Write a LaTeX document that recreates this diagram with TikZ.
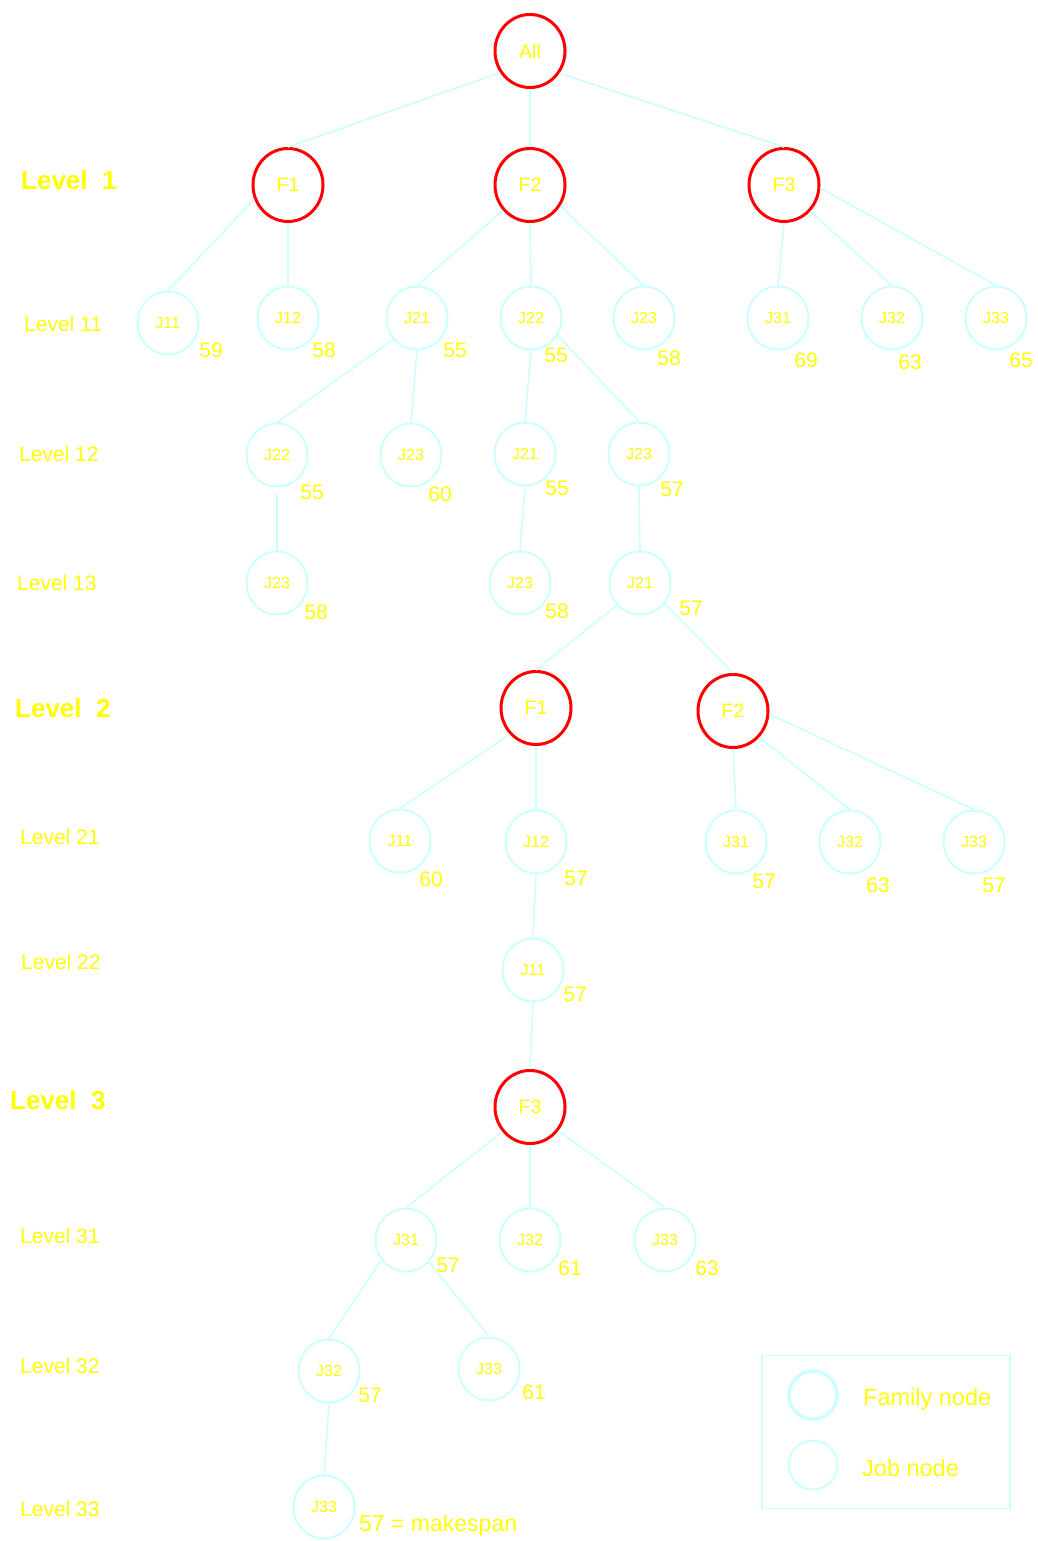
\documentclass[tikz,border=0pt]{standalone}
\usepackage{fontspec}
\setmainfont{Liberation Sans}
\usetikzlibrary{shapes.geometric}
\definecolor{famred}{HTML}{FF0000}
\definecolor{jobcyan}{HTML}{CCFFFF}
\definecolor{txtyellow}{HTML}{FFFF00}
\tikzset{
  famnode/.style={ellipse, draw=famred, line width=3pt, minimum width=70pt, minimum height=73pt, inner sep=0pt, text=txtyellow, font=\fontsize{19.5}{22}\selectfont},
  jobnode/.style={ellipse, draw=jobcyan, line width=2pt, minimum width=61pt, minimum height=63pt, inner sep=0pt, text=txtyellow, font=\fontsize{16}{18}\selectfont},
  edge/.style={draw=jobcyan, line width=1.6pt},
  val/.style={text=txtyellow, inner sep=0pt, font=\fontsize{21}{24}\selectfont},
  lvl/.style={text=txtyellow, inner sep=0pt, anchor=west, font=\fontsize{21}{24}\selectfont},
  biglvl/.style={text=txtyellow, inner sep=0pt, anchor=west, font=\bfseries\fontsize{26}{30}\selectfont},
  legtext/.style={text=txtyellow, inner sep=0pt, anchor=west, font=\fontsize{23.5}{26}\selectfont}
}
\begin{document}
\begin{tikzpicture}[x=1pt, y=-1pt]
\path[fill=white, use as bounding box] (0,0) rectangle (1037,1541);

% level labels
\node[biglvl] (L1) at (21,180) {Level\ \ 1};
\node[lvl] (L11) at (24,324) {Level 11};
\node[lvl] (L12) at (19,454) {Level 12};
\node[lvl] (L13) at (17,583) {Level 13};
\node[biglvl] (L2) at (15,708) {Level\ \ 2};
\node[lvl] (L21) at (20,837) {Level 21};
\node[lvl] (L22) at (21,962) {Level 22};
\node[biglvl] (L3) at (10,1100) {Level\ \ 3};
\node[lvl] (L31) at (20,1236) {Level 31};
\node[lvl] (L32) at (20,1366) {Level 32};
\node[lvl] (L33) at (20,1509) {Level 33};

% family nodes
\node[famnode] (All) at (530,51) {All};
\node[famnode] (F1) at (288,185) {F1};
\node[famnode] (F2) at (530,185) {F2};
\node[famnode] (F3) at (784,185) {F3};
\node[famnode] (bF1) at (536,708) {F1};
\node[famnode] (bF2) at (733,711) {F2};
\node[famnode] (cF3) at (530,1107) {F3};

% level 11
\node[jobnode] (a11) at (168,323) {J11};
\node[jobnode] (a12) at (288,318) {J12};
\node[jobnode] (a21) at (417,318) {J21};
\node[jobnode] (a22) at (531,318) {J22};
\node[jobnode] (a23) at (644,318) {J23};
\node[jobnode] (a31) at (778,318) {J31};
\node[jobnode] (a32) at (892,318) {J32};
\node[jobnode] (a33) at (996,318) {J33};
\node[val] (va11) at (211,350) {59};
\node[val] (va12) at (324,350) {58};
\node[val] (va21) at (455,350) {55};
\node[val] (va22) at (556,355) {55};
\node[val] (va23) at (669,358) {58};
\node[val] (va31) at (806,360) {69};
\node[val] (va32) at (910,362) {63};
\node[val] (va33) at (1021,360) {65};

% level 12
\node[jobnode] (b22) at (277,455) {J22};
\node[jobnode] (b23) at (411,455) {J23};
\node[jobnode] (b21) at (525,454) {J21};
\node[jobnode] (b23r) at (639,454) {J23};
\node[val] (vb22) at (312,492) {55};
\node[val] (vb23) at (440,494) {60};
\node[val] (vb21) at (557,488) {55};
\node[val] (vb23r) at (672,489) {57};

% level 13
\node[jobnode] (c23) at (277,583) {J23};
\node[jobnode] (c23m) at (520,583) {J23};
\node[jobnode] (c21) at (640,583) {J21};
\node[val] (vc23) at (316,612) {58};
\node[val] (vc23m) at (557,611) {58};
\node[val] (vc21) at (691,608) {57};

% level 21
\node[jobnode] (d11) at (400,841) {J11};
\node[jobnode] (d12) at (536,842) {J12};
\node[jobnode] (d31) at (736,842) {J31};
\node[jobnode] (d32) at (850,842) {J32};
\node[jobnode] (d33) at (974,842) {J33};
\node[val] (vd11) at (431,879) {60};
\node[val] (vd12) at (576,878) {57};
\node[val] (vd31) at (764,881) {57};
\node[val] (vd32) at (878,885) {63};
\node[val] (vd33) at (994,885) {57};

% level 22
\node[jobnode] (e11) at (533,970) {J11};
\node[val] (ve11) at (575,994) {57};

% level 31
\node[jobnode] (f31) at (406,1240) {J31};
\node[jobnode] (f32) at (530,1240) {J32};
\node[jobnode] (f33) at (665,1240) {J33};
\node[val] (vf31) at (448,1265) {57};
\node[val] (vf32) at (570,1268) {61};
\node[val] (vf33) at (707,1268) {63};

% level 32
\node[jobnode] (g32) at (329,1371) {J32};
\node[jobnode] (g33) at (489,1369) {J33};
\node[val] (vg32) at (370,1395) {57};
\node[val] (vg33) at (534,1392) {61};

% level 33
\node[jobnode] (h33) at (324,1507) {J33};
\node[val, anchor=west, font=\fontsize{23}{26}\selectfont] (vh33) at (359,1526) {57 = makespan};

% edges
\draw[edge] (All.216) -- (F1.north);
\draw[edge] (All.south) -- (F2.north);
\draw[edge] (All.323) -- (F3.north);
\draw[edge] (F1.203) -- (a11.north);
\draw[edge] (F1.south) -- (a12.north);
\draw[edge] (F2.223) -- (a21.north);
\draw[edge] (F2.south) -- (a22.north);
\draw[edge] (F2.325) -- (a23.north);
\draw[edge] (F3.south) -- (a31.north);
\draw[edge] (F3.315) -- (a32.north);
\draw[edge] (F3.355) -- (a33.north);
\draw[edge] (a21.222) -- (b22.north);
\draw[edge] (a21.south) -- (b23.north);
\draw[edge] (a22.south) -- (b21.north);
\draw[edge] (a22.327) -- (b23r.north);
\draw[edge] ([yshift=-6pt]b22.south) -- (c23.north);
\draw[edge] (b21.south) -- (c23m.north);
\draw[edge] (b23r.south) -- (c21.north);
\draw[edge] (c21.224) -- (bF1.north);
\draw[edge] (c21.320) -- (bF2.north);
\draw[edge] (bF1.225) -- (d11.north);
\draw[edge] (bF1.south) -- (d12.north);
\draw[edge] (bF2.south) -- (d31.north);
\draw[edge] (bF2.315) -- (d32.north);
\draw[edge] (bF2.355) -- (d33.north);
\draw[edge] (d12.south) -- (e11.north);
\draw[edge] (e11.south) -- (cF3.north);
\draw[edge] (cF3.222) -- (f31.north);
\draw[edge] (cF3.south) -- (f32.north);
\draw[edge] (cF3.320) -- (f33.north);
\draw[edge] (f31.219) -- (g32.north);
\draw[edge] (f31.316) -- (g33.north);
\draw[edge] (g32.south) -- (h33.north);

% legend
\node[draw=jobcyan, line width=1.5pt, minimum width=248pt, minimum height=153pt, inner sep=0pt] (legbox) at (886,1432) {};
\node[circle, draw=jobcyan, line width=3.5pt, minimum size=48pt, inner sep=0pt] (legfam) at (813,1395) {};
\node[circle, draw=jobcyan, line width=2pt, minimum size=49pt, inner sep=0pt] (legjob) at (813,1465) {};
\node[legtext] (legfamt) at (863,1399) {Family node};
\node[legtext] (legjobt) at (862,1468) {Job node};
\end{tikzpicture}
\end{document}
